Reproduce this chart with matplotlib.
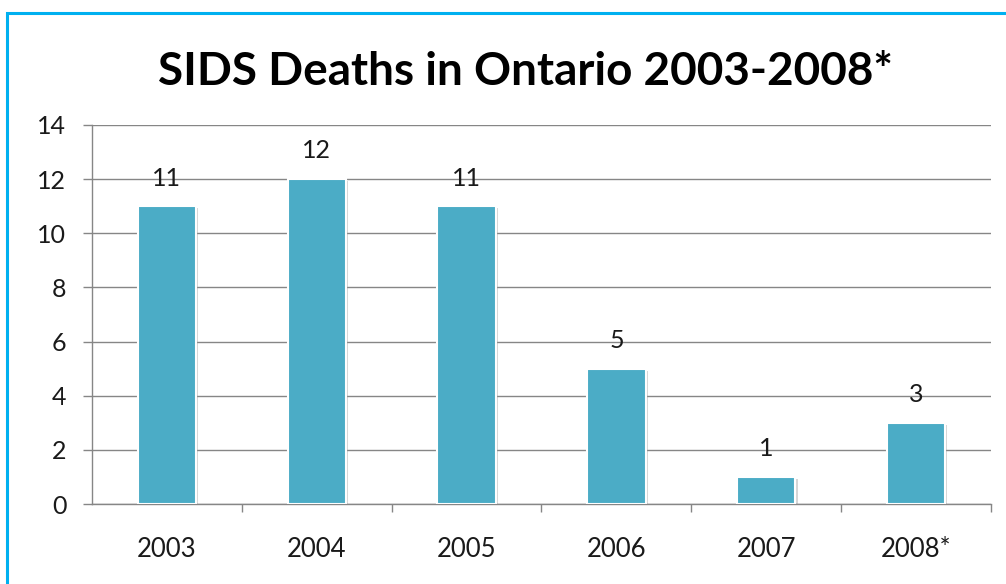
import matplotlib
matplotlib.use("Agg")
import matplotlib.pyplot as plt
from matplotlib.patches import Rectangle
import matplotlib.patheffects as pe

categories = ["2003", "2004", "2005", "2006", "2007", "2008*"]
deaths = [11, 12, 11, 5, 1, 3]
y_ticks = [0, 2, 4, 6, 8, 10, 12, 14]
title = "SIDS Deaths in Ontario 2003-2008*"

plt.rcParams['font.family'] = ['Lato', 'DejaVu Sans']

W, H = 1006, 584
fig = plt.figure(figsize=(W / 100, H / 100), dpi=100)
fig.patch.set_facecolor("white")

# outer chart border
fig.patches.append(Rectangle((7 / W, -0.05), 1.1, (H - 13) / H + 0.05,
                             transform=fig.transFigure, fill=False,
                             edgecolor="#00B0F0", linewidth=2.2, zorder=10))

ax = fig.add_axes([92 / W, (H - 504) / H, (991 - 92) / W, (504 - 125) / H])
x = list(range(len(categories)))
bars = ax.bar(x, deaths, width=0.39, color="#4BACC6", edgecolor="white",
              linewidth=1.5, zorder=3)
for b in bars:
    b.set_path_effects([pe.SimplePatchShadow(offset=(1.5, -1.5), shadow_rgbFace="#999999", alpha=0.4),
                        pe.Normal()])
for xi, v in zip(x, deaths):
    ax.annotate(str(v), (xi, v), xytext=(0, 12), textcoords="offset points",
                ha="center", va="bottom", fontsize=18, color="#1a1a1a")

ax.set_xlim(-0.5, len(categories) - 0.5)
ax.set_ylim(0, 14)
ax.set_yticks(y_ticks)
ax.set_yticklabels([str(t) for t in y_ticks], fontsize=18, color="#1a1a1a")
ax.set_xticks(x)
ax.set_xticklabels(categories, fontsize=18.5, color="#1a1a1a")
ax.set_xticks([i + 0.5 for i in x], minor=True)
ax.tick_params(axis="x", which="major", length=0, pad=24)
ax.tick_params(axis="x", which="minor", length=6, color="#868686", width=1)
ax.tick_params(axis="y", length=6.5, color="#868686", width=1, pad=12)
ax.grid(axis="y", color="#868686", linewidth=1, zorder=0)
ax.set_axisbelow(True)
for s in ["top", "right"]:
    ax.spines[s].set_visible(False)
for s in ["left", "bottom"]:
    ax.spines[s].set_color("#868686")
    ax.spines[s].set_linewidth(1)

fig.text(525 / W, (H - 72) / H, title, ha="center", va="center",
         fontsize=33, fontweight="bold", color="black")

fig.savefig("out.png", dpi=100)
